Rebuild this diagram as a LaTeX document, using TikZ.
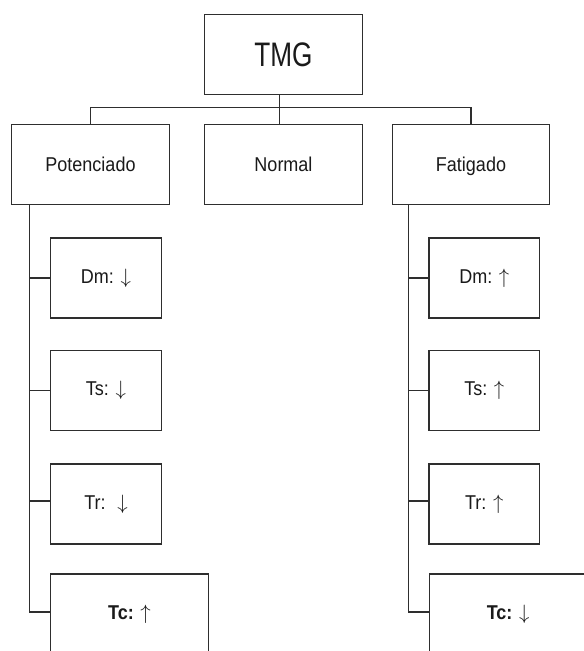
\documentclass[tikz,border=0pt]{standalone}
\usepackage{fontspec}
\setmainfont{Liberation Sans}[FakeStretch=0.9]
\newfontfamily\tmgfont{Liberation Sans}[FakeStretch=0.77]
\definecolor{linec}{HTML}{2E2E2E}
\definecolor{textc}{HTML}{1A1A1A}
\begin{document}
\begin{tikzpicture}[x=1pt,y=-1pt,line width=1.2pt,
  box/.style={draw=linec,rectangle,minimum width=157.5pt,minimum height=80pt,inner sep=0pt,text=textc,
    font=\fontsize{20}{24}\selectfont},
  topbox/.style={box,text height=14.3pt,text depth=0pt},
  smallbox/.style={box,minimum width=110.5pt},
  conn/.style={draw=linec}]
\useasboundingbox (0,0) rectangle (584,651);
\clip (0,0) rectangle (584,651);
\fill[white] (0,0) rectangle (584,651);
% top
\node[topbox,text height=24.5pt,font=\tmgfont\fontsize{34}{40}\selectfont] (tmg) at (283.5,54.5) {TMG};
\node[topbox] (pot) at (90.5,164.5) {Potenciado};
\node[topbox] (nor) at (283.5,164.5) {Normal};
\node[topbox] (fat) at (471,164.5) {Fatigado};
% left children
\node[smallbox] (dmL) at (106,278) {Dm: $\downarrow$};
\node[smallbox] (tsL) at (106,390.5) {Ts: $\downarrow$};
\node[smallbox] (trL) at (106,504) {Tr:~ $\downarrow$};
\node[box] (tcL) at (129.5,614) {\textbf{Tc:} $\uparrow$};
% right children
\node[smallbox] (dmR) at (484.3,278) {Dm: $\uparrow$};
\node[smallbox] (tsR) at (484.3,390.5) {Ts: $\uparrow$};
\node[smallbox] (trR) at (484.3,504) {Tr: $\uparrow$};
\node[box] (tcR) at (508.1,614) {\textbf{Tc:} $\downarrow$};
% connectors top
\coordinate (bar) at (0,107.7);
\coordinate (stem) at ([xshift=-3.8pt]tmg.south);
\draw[conn] (stem) -- (stem |- nor.north);
\draw[conn] (pot.north) |- (fat.north |- bar) -- (fat.north);
% left trunk
\coordinate (tl) at ([xshift=18.6pt]pot.south west);
\draw[conn] (tl) |- ([yshift=2pt]tcL.west);
\draw[conn] (dmL.west) -- (dmL.west -| tl);
\draw[conn] (tsL.west) -- (tsL.west -| tl);
\draw[conn] ([yshift=3pt]trL.west) -- ([yshift=3pt]trL.west -| tl);
% right trunk
\coordinate (tr) at ([xshift=16.7pt]fat.south west);
\draw[conn] (tr) |- ([yshift=2pt]tcR.west);
\draw[conn] (dmR.west) -- (dmR.west -| tr);
\draw[conn] (tsR.west) -- (tsR.west -| tr);
\draw[conn] ([yshift=3pt]trR.west) -- ([yshift=3pt]trR.west -| tr);
\end{tikzpicture}
\end{document}
